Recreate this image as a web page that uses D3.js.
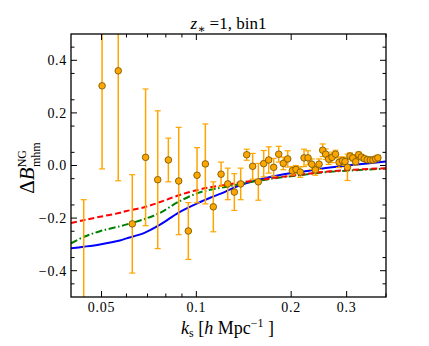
<!DOCTYPE html>
<html>
<head>
<meta charset="utf-8">
<script src="https://cdn.jsdelivr.net/npm/d3@7"></script>
<style>
  body { margin: 0; background: #fff; }
  svg text { font-family: "Liberation Serif", "DejaVu Serif", serif; fill: #000; }
</style>
</head>
<body>
<svg id="chart" width="429" height="346"></svg>
<script>
// measured points: k, Delta B and its error
var kVals = [0.0439, 0.0502, 0.0565, 0.0626, 0.069, 0.0754, 0.0815, 0.0879, 0.0943, 0.1005,
  0.1068, 0.1132, 0.1198, 0.1258, 0.132, 0.1383, 0.1445, 0.1509, 0.1573, 0.1636,
  0.1697, 0.176, 0.1826, 0.1888, 0.195, 0.2017, 0.2072, 0.2138, 0.2197, 0.2262,
  0.2325, 0.2387, 0.2452, 0.2518, 0.2574, 0.263, 0.2696, 0.2766, 0.2838, 0.2911,
  0.2965, 0.3018, 0.3074, 0.3136, 0.3205, 0.3276, 0.334, 0.3413, 0.3488, 0.3567,
  0.3638, 0.371, 0.377];
var bVals = [-0.62, 0.303, 0.360, -0.222, 0.031, -0.054, 0.021, -0.059, -0.249, -0.037,
  0.006, -0.157, -0.033, -0.070, -0.101, -0.070, 0.041, -0.003, -0.062, 0.007,
  0.021, -0.007, 0.043, 0.008, 0.025, -0.020, -0.015, -0.025, 0.029, 0.029,
  0.005, -0.017, 0.005, 0.058, 0.043, 0.024, 0.031, 0.043, 0.012, 0.018,
  0.015, -0.007, 0.036, 0.029, 0.014, 0.041, 0.032, 0.026, 0.022, 0.021,
  0.021, 0.025, 0.029];
var bErr = [0.49, 0.316, 0.418, 0.187, 0.26, 0.262, 0.083, 0.204, 0.108, 0.105,
  0.152, 0.095, 0.046, 0.06, 0.07, 0.06, 0.021, 0.049, 0.07, 0.05,
  0.05, 0.034, 0.03, 0.024, 0.031, 0.016, 0.015, 0.02, 0.033, 0.027,
  0.02, 0.02, 0.02, 0.024, 0.02, 0.02, 0.02, 0.015, 0.02, 0.015,
  0.015, 0.05, 0.012, 0.012, 0.012, 0.01, 0.01, 0.01, 0.01, 0.01,
  0.01, 0.01, 0.01];

// model curves
var curveK = [0.04, 0.0438, 0.0494, 0.0572, 0.0601, 0.0687, 0.0767, 0.0881, 0.1014, 0.1119,
  0.1233, 0.1376, 0.159, 0.1843, 0.213, 0.2656, 0.4];
var blueVals = [-0.315, -0.309, -0.300, -0.285, -0.277, -0.255, -0.225, -0.178, -0.142, -0.12,
  -0.1, -0.075, -0.053, -0.036, -0.025, -0.008, 0.015];
var redVals = [-0.219, -0.208, -0.195, -0.180, -0.173, -0.158, -0.139, -0.113, -0.092, -0.082,
  -0.074, -0.065, -0.055, -0.044, -0.035, -0.022, -0.01];
var greenVals = [-0.296, -0.272, -0.250, -0.231, -0.224, -0.203, -0.180, -0.137, -0.104, -0.091,
  -0.082, -0.07, -0.057, -0.046, -0.037, -0.024, -0.012];

var xMajor = [0.05, 0.1, 0.2, 0.3];
var xMajorLabels = ["0.05", "0.1", "0.2", "0.3"];
var xMinor = [0.06, 0.07, 0.08, 0.09, 0.4];
var yMajor = [-0.4, -0.2, 0, 0.2, 0.4];
var yMajorLabels = ["\u22120.4", "\u22120.2", "0.0", "0.2", "0.4"];
var yMinor = d3.range(-0.45, 0.5, 0.1).map(function(v) { return Math.round(v * 100) / 100; });

var svg = d3.select("#chart");
var plotL = 71, plotR = 386, plotT = 34, plotB = 297;

var x = d3.scaleLog().domain([0.04, 0.4]).range([plotL, plotR]);
var y = d3.scaleLinear().domain([-0.5, 0.5]).range([plotB, plotT]);

svg.append("defs").append("clipPath").attr("id", "plotclip")
  .append("rect").attr("x", plotL).attr("y", plotT)
  .attr("width", plotR - plotL).attr("height", plotB - plotT);

var plot = svg.append("g").attr("clip-path", "url(#plotclip)");

// model lines
var line = d3.line()
  .x(function(d) { return x(d[0]); })
  .y(function(d) { return y(d[1]); })
  .curve(d3.curveCatmullRom.alpha(0.5));

function curvePoints(vals) {
  return curveK.map(function(k, i) { return [k, vals[i]]; });
}

plot.append("path").attr("d", line(curvePoints(blueVals)))
  .attr("fill", "none").attr("stroke", "#0000ff").attr("stroke-width", 2);
plot.append("path").attr("d", line(curvePoints(greenVals)))
  .attr("fill", "none").attr("stroke", "#008000").attr("stroke-width", 2)
  .attr("stroke-dasharray", "7,2.5,1.5,2.5");
plot.append("path").attr("d", line(curvePoints(redVals)))
  .attr("fill", "none").attr("stroke", "#ff0000").attr("stroke-width", 2)
  .attr("stroke-dasharray", "6,3");

// error bars
var pts = kVals.map(function(k, i) { return { k: k, v: bVals[i], e: bErr[i] }; });
var orange = "#ffa500";

var eb = plot.selectAll("g.eb").data(pts).enter().append("g").attr("class", "eb");
eb.append("line")
  .attr("x1", function(d) { return x(d.k); }).attr("x2", function(d) { return x(d.k); })
  .attr("y1", function(d) { return y(d.v - d.e); }).attr("y2", function(d) { return y(d.v + d.e); })
  .attr("stroke", orange).attr("stroke-width", 1.5);
[-1, 1].forEach(function(s) {
  eb.append("line")
    .attr("x1", function(d) { return x(d.k) - 3; }).attr("x2", function(d) { return x(d.k) + 3; })
    .attr("y1", function(d) { return y(d.v + s * d.e); }).attr("y2", function(d) { return y(d.v + s * d.e); })
    .attr("stroke", orange).attr("stroke-width", 1.2);
});

plot.selectAll("circle.pt").data(pts).enter().append("circle")
  .attr("class", "pt")
  .attr("cx", function(d) { return x(d.k); })
  .attr("cy", function(d) { return y(d.v); })
  .attr("r", 3.3)
  .attr("fill", orange).attr("stroke", "#6b5200").attr("stroke-width", 0.8);

// frame
svg.append("rect").attr("x", plotL).attr("y", plotT)
  .attr("width", plotR - plotL).attr("height", plotB - plotT)
  .attr("fill", "none").attr("stroke", "#000").attr("stroke-width", 1.3);

// ticks on all four sides, pointing inward
var ticks = svg.append("g").attr("stroke", "#000").attr("stroke-width", 1);
function xTicks(vals, len) {
  vals.forEach(function(v) {
    var px = x(v);
    ticks.append("line").attr("x1", px).attr("x2", px).attr("y1", plotB).attr("y2", plotB - len);
    ticks.append("line").attr("x1", px).attr("x2", px).attr("y1", plotT).attr("y2", plotT + len);
  });
}
function yTicks(vals, len) {
  vals.forEach(function(v) {
    var py = y(v);
    ticks.append("line").attr("x1", plotL).attr("x2", plotL + len).attr("y1", py).attr("y2", py);
    ticks.append("line").attr("x1", plotR).attr("x2", plotR - len).attr("y1", py).attr("y2", py);
  });
}
xTicks(xMajor, 6);
xTicks(xMinor, 3.5);
yTicks(yMajor, 6);
yTicks(yMinor, 3.5);

// tick labels
svg.selectAll("text.xl").data(xMajor).enter().append("text")
  .attr("class", "xl")
  .attr("x", function(d) { return x(d); })
  .attr("y", plotB + 15)
  .attr("text-anchor", "middle")
  .attr("font-size", 14)
  .attr("letter-spacing", 0.7)
  .text(function(d, i) { return xMajorLabels[i]; });

svg.selectAll("text.yl").data(yMajor).enter().append("text")
  .attr("class", "yl")
  .attr("x", plotL - 4)
  .attr("y", function(d) { return y(d) + 4.8; })
  .attr("text-anchor", "end")
  .attr("font-size", 14)
  .attr("letter-spacing", 0.7)
  .text(function(d, i) { return yMajorLabels[i]; });

// title
var title = svg.append("text").attr("x", (plotL + plotR) / 2).attr("y", 29)
  .attr("text-anchor", "middle").attr("font-size", 17);
title.append("tspan").attr("font-style", "italic").text("z");
title.append("tspan").attr("font-size", 12).attr("dy", 4).text("\u2217");
title.append("tspan").attr("dy", -4).text(" =1, bin1");

// x label
var xl = svg.append("text").attr("x", (plotL + plotR) / 2 - 1).attr("y", 334)
  .attr("text-anchor", "middle").attr("font-size", 18);
xl.append("tspan").attr("font-style", "italic").text("k");
xl.append("tspan").attr("font-size", 12).attr("dy", 3).text("s");
xl.append("tspan").attr("dy", -3).text(" [");
xl.append("tspan").attr("font-style", "italic").text("h");
xl.append("tspan").text(" Mpc");
xl.append("tspan").attr("font-size", 12).attr("dy", -7).text("\u22121");
xl.append("tspan").attr("dy", 7).text(" ]");

// y label
var yl = svg.append("text")
  .attr("transform", "translate(34," + 168 + ") rotate(-90)")
  .attr("text-anchor", "middle").attr("font-size", 21);
yl.append("tspan").text("\u0394");
yl.append("tspan").attr("font-style", "italic").text("B");
yl.append("tspan").attr("font-size", 12).attr("dy", -8).text("NG");
yl.append("tspan").attr("font-size", 12).attr("dx", -17).attr("dy", 14).text("mhm");
</script>
</body>
</html>
